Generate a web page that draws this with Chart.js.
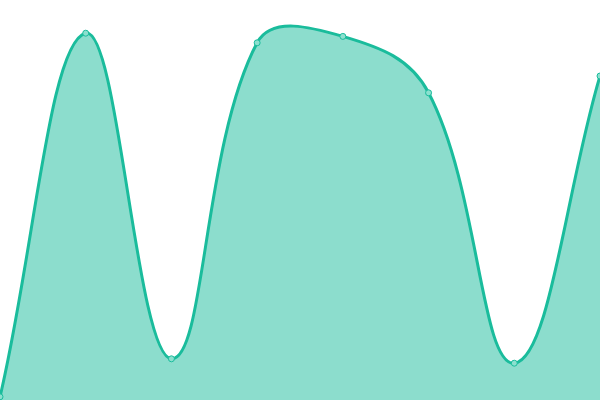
<!DOCTYPE html>
<html><head><meta charset="utf-8">
<script src="https://cdn.jsdelivr.net/npm/chart.js@4"></script>
<style>html,body{margin:0;padding:0;background:#fff}#wrap{width:600px;height:400px}</style>
</head><body><div id="wrap"><canvas id="c"></canvas></div>
<script>
const labels = ["1","2","3","4","5","6","7","8"];
const values = [0.8, 91.7, 10.3, 89.3, 90.9, 76.8, 9.2, 81];
new Chart(document.getElementById('c'), {
  type: 'line',
  data: { labels: labels, datasets: [{
    data: values,
    fill: true,
    tension: 0.4,
    borderColor: '#1abc9c',
    backgroundColor: 'rgba(26,188,156,0.5)',
    borderWidth: 3,
    pointRadius: 3,
    pointBorderWidth: 1,
    pointBackgroundColor: '#8ce0cf',
    pointBorderColor: '#1abc9c'
  }]},
  options: {
    responsive: true, maintainAspectRatio: false, animation: false,
    layout: { padding: 0, autoPadding: false },
    plugins: { legend: { display: false }, tooltip: { enabled: false } },
    scales: {
      x: { display: false },
      y: { display: false, min: 0, max: 100 }
    }
  }
});
</script></body></html>
